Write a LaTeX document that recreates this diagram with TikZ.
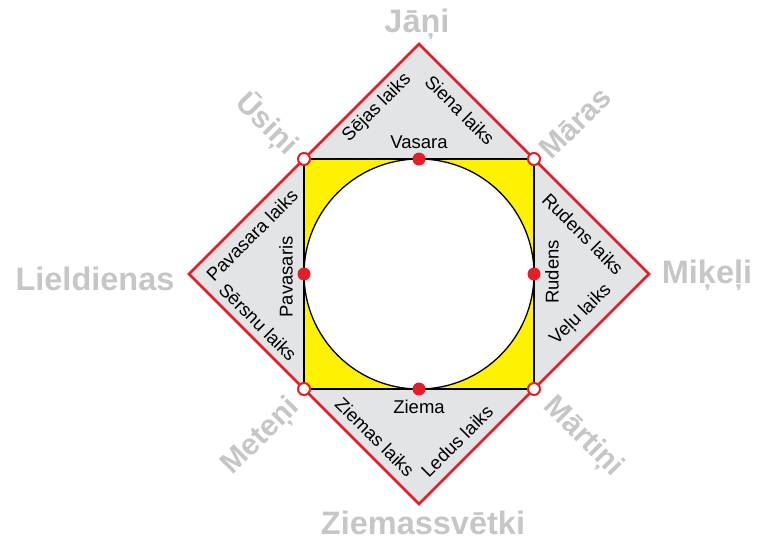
\documentclass[tikz,border=0pt]{standalone}
\usepackage{fontspec}
\setmainfont{Liberation Sans}
\definecolor{redline}{RGB}{228,30,38}
\definecolor{greyfill}{RGB}{227,228,230}
\definecolor{yellowfill}{RGB}{255,242,0}
\definecolor{greytext}{RGB}{198,198,198}
\begin{document}
\begin{tikzpicture}[x=1pt,y=-1pt,
  season/.style={font=\fontsize{18.5}{18.5}\selectfont, inner sep=0pt, text=black},
  feast/.style={font=\fontsize{32.5}{32.5}\selectfont\bfseries, inner sep=0pt, text=greytext, anchor=base},
  feastrot/.style={font=\fontsize{30}{30}\selectfont\bfseries, inner sep=0pt, text=greytext},
  reddot/.style={circle, fill=redline, minimum size=13pt, inner sep=0pt},
  ring/.style={circle, fill=white, draw=redline, line width=2pt, minimum size=12pt, inner sep=0pt}]
\useasboundingbox (0,0) rectangle (757,539);
\coordinate (c) at (419,274);
\coordinate (T) at (419,44);
\coordinate (B) at (419,504);
\coordinate (L) at (189,274);
\coordinate (R) at (649,274);
\coordinate (tl) at (304,159);
\coordinate (tr) at (534,159);
\coordinate (bl) at (304,389);
\coordinate (br) at (534,389);
\fill[greyfill] (T) -- (R) -- (B) -- (L) -- cycle;
\fill[yellowfill] (tl) rectangle (br);
\fill[white] (c) circle (115pt);
\draw[black, line width=1.3pt] (tl) rectangle (br);
\draw[black, line width=1.3pt] (c) circle (115pt);
\draw[redline, line width=2.8pt, line join=miter] (T) -- (R) -- (B) -- (L) -- cycle;
\node[reddot] (dtop) at (419,159) {};
\node[reddot] (dbot) at (419,389) {};
\node[reddot] (dleft) at (304,274) {};
\node[reddot] (dright) at (534,274) {};
\node[ring] (rtl) at (tl) {};
\node[ring] (rtr) at (tr) {};
\node[ring] (rbl) at (bl) {};
\node[ring] (rbr) at (br) {};
% seasons
\node[season] (vasara) at (419,142) {Vasara};
\node[season] (ziema) at (419,407) {Ziema};
\node[season, rotate=90] (pavasaris) at (286,277) {Pavasaris};
\node[season, rotate=90] (rudens) at (552,272) {Rudens};
% periods
\node[season, rotate=45] (sejas) at (377,108) {Sējas laiks};
\node[season, rotate=-45] (siena) at (460,110) {Siena laiks};
\node[season, rotate=45] (pavl) at (252,235) {Pavasara laiks};
\node[season, rotate=-45] (sersnu) at (258,322) {Sērsnu laiks};
\node[season, rotate=-45] (rudl) at (583,234) {Rudens laiks};
\node[season, rotate=45] (velu) at (581,315) {Veļu laiks};
\node[season, rotate=-45] (ziemasl) at (375,437) {Ziemas laiks};
\node[season, rotate=45] (ledus) at (457,441) {Ledus laiks};
% feasts
\node[feast] (jani) at (417,32) {Jāņi};
\node[feast] (lield) at (95,290) {Lieldienas};
\node[feast] (mikeli) at (707,283) {Miķeļi};
\node[feast] (ziemassv) at (423,534) {Ziemassvētki};
\node[feastrot, rotate=-45] (usini) at (267,124) {Ūsiņi};
\node[feastrot, rotate=45] (maras) at (575,123) {Māras};
\node[feastrot, rotate=45] (meteni) at (261,437) {Meteņi};
\node[feastrot, rotate=-45] (martini) at (583,437) {Mārtiņi};
\end{tikzpicture}
\end{document}
